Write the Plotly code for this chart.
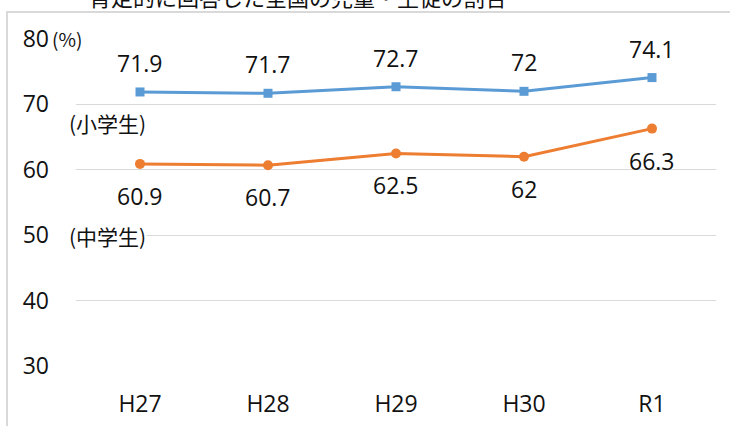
import plotly.graph_objects as go

categories = ["H27", "H28", "H29", "H30", "R1"]
elementary = [71.9, 71.7, 72.7, 72, 74.1]
junior = [60.9, 60.7, 62.5, 62, 66.3]
elementary_labels = ["71.9", "71.7", "72.7", "72", "74.1"]
junior_labels = ["60.9", "60.7", "62.5", "62", "66.3"]
y_ticks = [30, 40, 50, 60, 70, 80]
title_text = "肯定的に回答した全国の児童・生徒の割合"

BLUE = "#5B9BD5"
ORANGE = "#ED7D31"
FONT = "Open Sans, Noto Sans CJK JP, sans-serif"
CJK = "Noto Sans CJK JP, sans-serif"

fig = go.Figure()
fig.add_trace(go.Scatter(
    x=categories, y=elementary, mode="lines+markers",
    line=dict(color=BLUE, width=3),
    marker=dict(symbol="square", size=9, color=BLUE),
    showlegend=False, hoverinfo="skip"))
fig.add_trace(go.Scatter(
    x=categories, y=junior, mode="lines+markers",
    line=dict(color=ORANGE, width=3),
    marker=dict(symbol="circle", size=10, color=ORANGE),
    showlegend=False, hoverinfo="skip"))

annotations = []
for c, v, t in zip(categories, elementary, elementary_labels):
    annotations.append(dict(x=c, y=v, xref="x", yref="y", text=t, showarrow=False,
                            yshift=29, font=dict(size=23, color="#111", family=FONT)))
for c, v, t in zip(categories, junior, junior_labels):
    annotations.append(dict(x=c, y=v, xref="x", yref="y", text=t, showarrow=False,
                            yshift=-32, font=dict(size=23, color="#111", family=FONT)))

annotations.append(dict(x=-0.012, y=67.2, xref="paper", yref="y", xanchor="left",
                        text="(小学生)", showarrow=False, bgcolor="white", borderpad=0,
                        font=dict(size=21, color="#111", family=CJK)))
annotations.append(dict(x=-0.012, y=49.9, xref="paper", yref="y", xanchor="left",
                        text="(中学生)", showarrow=False, bgcolor="white", borderpad=0,
                        font=dict(size=21, color="#111", family=CJK)))
annotations.append(dict(x=-0.04, y=80, xref="paper", yref="y", xanchor="left",
                        text="(%)", showarrow=False, yshift=1,
                        font=dict(size=19, color="#111", family=CJK)))
annotations.append(dict(x=0.003, y=1, xref="paper", yref="paper", xanchor="left",
                        yanchor="bottom", yshift=25, xshift=9, text=title_text,
                        showarrow=False,
                        font=dict(size=22, color="#111", family=CJK)))

fig.update_layout(
    width=730, height=426,
    margin=dict(l=76, r=14, t=39, b=60, autoexpand=False),
    paper_bgcolor="white", plot_bgcolor="white",
    annotations=annotations,
    shapes=[dict(type="rect", xref="paper", yref="paper",
                 x0=-0.1078, x1=1.1, y0=-0.4, y1=1.0826,
                 line=dict(color="#d9d9d9", width=2), layer="below")],
    xaxis=dict(range=[-0.5, 4.5], showgrid=False, zeroline=False, showline=False,
               automargin=False,
               ticks="", tickfont=dict(size=23, color="#111", family=FONT),
               ticklabelstandoff=22),
    yaxis=dict(range=[30, 80], tickvals=y_ticks, showgrid=True, gridcolor="#d9d9d9",
               gridwidth=1, zeroline=False, showline=False, ticks="",
               automargin=False,
               tickfont=dict(size=23, color="#111", family=FONT),
               ticklabelstandoff=26),
)

fig.write_html("out.html")
